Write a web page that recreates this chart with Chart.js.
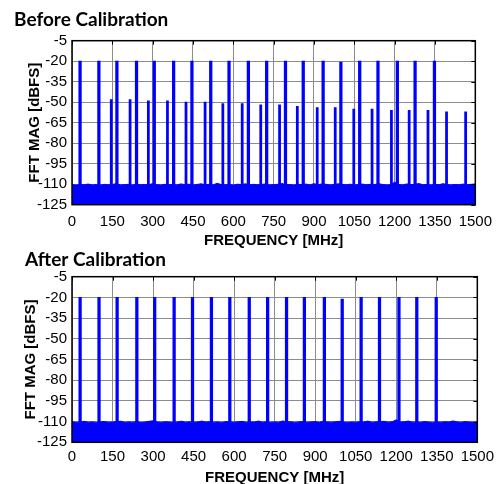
<!DOCTYPE html>
<html><head><meta charset="utf-8">
<script src="https://cdn.jsdelivr.net/npm/chart.js@4.4.1/dist/chart.umd.min.js"></script>
<style>
html,body{margin:0;padding:0;background:#fff;overflow:hidden;width:500px;height:484px;}
.wrap{position:absolute;left:0;width:500px;}
#w1{top:0;height:250px;}
#w2{top:234px;height:256px;}
canvas{display:block;}
</style></head><body>
<div class="wrap" id="w1"><canvas id="c1" width="500" height="250"></canvas></div>
<div class="wrap" id="w2"><canvas id="c2" width="500" height="256"></canvas></div>
<script>
// ---------- data ----------
const chartTitles = ['Before Calibration', 'After Calibration'];
const xAxisTitle = 'FREQUENCY [MHz]';
const yAxisTitle = 'FFT MAG [dBFS]';
const xTickValues = [0, 150, 300, 450, 600, 750, 900, 1050, 1200, 1350, 1500];
const yTickValues = [-125, -110, -95, -80, -65, -50, -35, -20, -5];

// main tones (MHz) and magnitudes (dBFS)
const toneFreq = [30, 100, 167, 240, 306, 378, 446, 516, 584, 656, 724, 794, 860, 934, 1000, 1070, 1138, 1210, 1276, 1348];
const toneMagBefore = [-20, -20, -20, -20, -20, -20, -20, -20, -20, -20, -20, -20, -20, -20, -20.7, -20, -20, -20, -20, -20];
const toneMagAfter  = [-20, -20, -20, -20, -20, -20, -20, -20, -20, -20, -20, -20, -20, -20, -21.2, -20, -20, -20, -20, -20];

// interleaving spurs before calibration
const spurFreq = [146, 216, 284, 355, 424, 495, 561, 633, 702, 772, 838, 912, 979, 1048, 1116, 1188, 1254, 1324, 1393, 1464];
const spurMag  = [-48, -48, -49, -49, -50, -50, -51, -51, -52, -52, -53, -54, -54, -55, -55, -56, -56, -56, -57, -57];

// noise floor ceiling, sampled every 15 MHz from 0 to 1500
const noiseTopBefore = [
 -110.3,-110.6,-110.2,-110.4,-109.9,-110.5,-110.3,-110.7,-110.1,-110.4,
 -110.2,-109.6,-110.5,-110.3,-110.1,-110.6,-109.9,-110.4,-110.2,-110.5,
 -109.5,-110.3,-110.6,-110.1,-110.4,-110.2,-110.5,-109.8,-110.3,-110.0,
 -110.6,-110.2,-109.7,-110.4,-110.1,-110.5,-109.3,-110.3,-110.4,-110.2,
 -110.6,-110.0,-110.3,-109.7,-110.5,-110.1,-110.4,-110.2,-109.8,-110.5,
 -110.3,-110.1,-109.4,-110.4,-110.2,-110.6,-110.0,-110.3,-109.9,-110.5,
 -109.6,-110.4,-109.8,-110.1,-110.5,-110.3,-109.7,-110.2,-110.4,-110.0,
 -110.6,-110.2,-109.9,-110.4,-110.1,-110.3,-109.6,-110.2,-110.5,-110.4,
 -108.5,-110.2,-110.5,-109.8,-110.3,-110.1,-109.5,-110.4,-110.2,-110.6,
 -110.1,-110.4,-109.6,-110.3,-110.5,-110.2,-110.4,-109.9,-110.3,-110.1,
 -109.8
];
const noiseTopAfter = [
 -110.0,-110.5,-110.3,-109.8,-110.4,-110.2,-110.6,-110.1,-109.9,-110.4,
 -110.3,-110.1,-109.7,-110.5,-110.2,-110.4,-110.0,-110.6,-110.3,-109.8,
 -109.4,-110.2,-110.5,-110.1,-110.3,-110.6,-110.2,-109.7,-110.4,-110.1,
 -110.5,-110.2,-109.6,-110.3,-110.1,-110.4,-110.2,-110.6,-110.0,-110.3,
 -110.4,-110.1,-109.8,-110.5,-110.2,-110.3,-109.6,-110.4,-110.1,-110.5,
 -110.2,-110.4,-109.5,-110.3,-110.1,-110.6,-110.2,-109.9,-110.4,-110.2,
 -110.0,-110.5,-109.7,-110.2,-110.4,-110.1,-109.8,-110.3,-110.5,-110.2,
 -110.4,-110.1,-110.3,-109.6,-110.5,-110.2,-110.0,-109.8,-110.4,-110.1,
 -108.7,-110.3,-110.1,-109.6,-110.4,-110.2,-110.5,-110.0,-110.3,-110.6,
 -110.2,-110.4,-110.1,-110.3,-109.5,-110.2,-110.5,-110.0,-110.3,-110.4,
 -110.1
];
const noiseStep = 15;
const floorDb = -125;

// ---------- chart ----------
const BLUE = '#0000ff';
const SANS = "'Liberation Sans', Arial, sans-serif";
const GRID = '#8c8c8c';

const framePlugin = {
  id: 'frame',
  afterDatasetsDraw(chart) {
    const {ctx, chartArea: a, scales: {x, y}} = chart;
    ctx.save();
    ctx.strokeStyle = '#000';
    ctx.lineWidth = 1;
    ctx.beginPath();
    x.ticks.forEach(t => {
      const px = Math.round(x.getPixelForValue(t.value)) + 0.5;
      ctx.moveTo(px, a.top); ctx.lineTo(px, a.top + 4);
    });
    y.ticks.forEach(t => {
      const py = Math.round(y.getPixelForValue(t.value)) + 0.5;
      ctx.moveTo(a.right, py); ctx.lineTo(a.right - 4, py);
    });
    ctx.stroke();
    ctx.lineWidth = 1.5;
    ctx.strokeRect(a.left, a.top, a.right - a.left, a.bottom - a.top);
    ctx.restore();
  }
};

function makeChart(id, cfg) {
  const datasets = [];
  datasets.push({
    type: 'line',
    data: cfg.noise.map((v, i) => ({x: i * noiseStep, y: v})),
    borderColor: BLUE, backgroundColor: BLUE, borderWidth: 1,
    pointRadius: 0, tension: 0, fill: 'start', order: 3
  });
  datasets.push({
    type: 'bar',
    data: toneFreq.map((f, i) => ({x: f, y: [floorDb, cfg.tones[i]]})),
    backgroundColor: BLUE, borderWidth: 0, barThickness: 2.6, grouped: false, order: 1
  });
  if (cfg.spurs) {
    datasets.push({
      type: 'bar',
      data: spurFreq.map((f, i) => ({x: f, y: [floorDb, spurMag[i]]})),
      backgroundColor: BLUE, borderWidth: 0, barThickness: 2.1, grouped: false, order: 2
    });
  }
  return new Chart(document.getElementById(id), {
    type: 'bar',
    data: {datasets},
    plugins: [framePlugin],
    options: {
      responsive: false, animation: false, devicePixelRatio: 1,
      layout: {padding: {left: cfg.padLeft, right: 21, top: 0, bottom: 0}},
      plugins: {
        legend: {display: false}, tooltip: {enabled: false},
        title: {
          display: true, text: cfg.title, align: 'start', color: '#000',
          font: {family: 'Lato', size: 19, weight: 'bold', lineHeight: 1.2},
          padding: {top: cfg.titlePadTop, bottom: cfg.titlePadBottom}
        }
      },
      scales: {
        x: {
          type: 'linear', min: 0, max: 1500, offset: false,
          grid: {color: GRID, lineWidth: 1, offset: false, drawTicks: false},
          border: {display: false},
          afterBuildTicks: s => { s.ticks = xTickValues.map(v => ({value: v})); },
          ticks: {color: '#000', padding: cfg.xTickPad, autoSkip: false, maxRotation: 0,
                  callback: v => String(v),
                  font: {family: SANS, size: 15}},
          title: {display: true, text: xAxisTitle, color: '#000',
                  font: {family: SANS, size: 15, weight: 'bold', lineHeight: 1.2},
                  padding: {top: 0, bottom: cfg.xTitlePad}},
          afterFit: s => { s.height = cfg.xHeight; }
        },
        y: {
          type: 'linear', min: -125, max: -5,
          grid: {color: GRID, lineWidth: 1, drawTicks: false},
          border: {display: false},
          afterBuildTicks: s => { s.ticks = yTickValues.map(v => ({value: v})); },
          ticks: {color: '#000', padding: 5, autoSkip: false,
                  callback: v => String(v),
                  font: {family: SANS, size: 15}},
          title: {display: true, text: yAxisTitle, color: '#000',
                  font: {family: SANS, size: 15, weight: 'bold', lineHeight: 1.2},
                  padding: {top: cfg.yTitlePad, bottom: 0}},
          afterFit: s => { s.width = cfg.yWidth; }
        }
      }
    }
  });
}

makeChart('c1', {
  title: chartTitles[0], tones: toneMagBefore, spurs: true, noise: noiseTopBefore,
  padLeft: 14, titlePadTop: 8.9, titlePadBottom: 9.0,
  xHeight: 45.3, xTickPad: 8, xTitlePad: 0.5, yWidth: 58, yTitlePad: 12
});
makeChart('c2', {
  title: chartTitles[1], tones: toneMagAfter, spurs: false, noise: noiseTopAfter,
  padLeft: 25, titlePadTop: 14.3, titlePadBottom: 5.6,
  xHeight: 47.7, xTickPad: 6, xTitlePad: 3.5, yWidth: 47, yTitlePad: -3.5
});
</script>
</body></html>
